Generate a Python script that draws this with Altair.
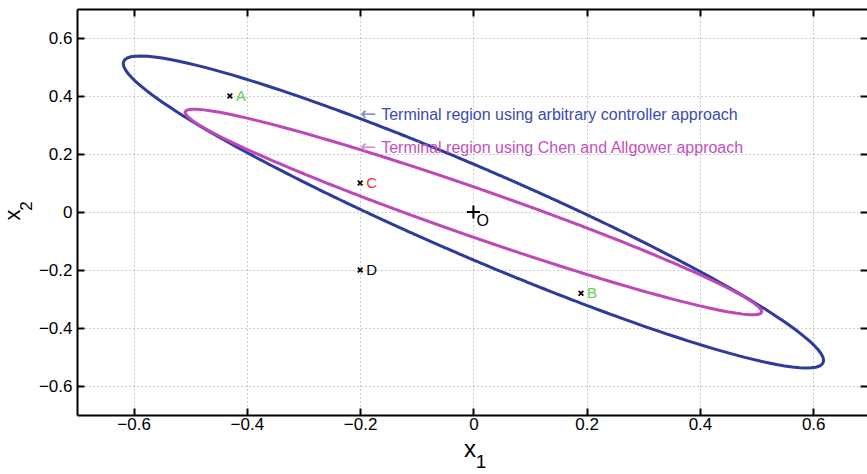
import altair as alt
import numpy as np
import pandas as pd

# Terminal regions {x : x' P x <= 1}, with P = [[p11, p12], [p12, p22]]
region_names = [
    "Terminal region using arbitrary controller approach",
    "Terminal region using Chen and Allgower approach",
]
region_p11 = [27.7, 64.0]
region_p12 = [30.3, 89.1]
region_p22 = [36.6, 132.0]
region_colors = ["#2c3b9c", "#bf47b6"]
region_text_colors = ["#3a4cb0", "#c550bd"]
region_arrow_colors = ["#7f88c8", "#d98ad2"]
# where each region's annotation arrow starts
note_x1 = [-0.2, -0.2]
note_x2 = [0.333, 0.219]

# Initial states
point_names = ["A", "B", "C", "D"]
point_x1 = [-0.43, 0.19, -0.20, -0.20]
point_x2 = [0.40, -0.28, 0.10, -0.20]
point_colors = ["#62cf55", "#62cf55", "#e8392b", "#000000"]

# Equilibrium
origin_name = ["O"]
origin_x1 = [0.0]
origin_x2 = [0.0]

tick_values = [-0.6, -0.4, -0.2, 0.0, 0.2, 0.4, 0.6]
x_domain = [-0.7, 0.695]
y_domain = [-0.7, 0.7]

W, H = 790, 406
FONT = "Liberation Sans"

# Boundary of each ellipse x' P x = 1, traced by direction angle
rows = []
angles = np.linspace(0.0, 2.0 * np.pi, 721)
for name, p11, p12, p22 in zip(region_names, region_p11, region_p12, region_p22):
    c, s = np.cos(angles), np.sin(angles)
    r = 1.0 / np.sqrt(p11 * c * c + 2.0 * p12 * c * s + p22 * s * s)
    for i, (a, b) in enumerate(zip(r * c, r * s)):
        rows.append({"region": name, "idx": i, "x1": a, "x2": b})
curves = pd.DataFrame(rows)

points = pd.DataFrame({"name": point_names, "x1": point_x1, "x2": point_x2,
                       "color": point_colors})
origin = pd.DataFrame({"name": origin_name, "x1": origin_x1, "x2": origin_x2})
notes = pd.DataFrame({"text": region_names, "x1": note_x1, "x2": note_x2,
                      "color": region_text_colors,
                      "arrow": ["\u2190", "\u2190"],
                      "arrow_color": region_arrow_colors})

xs = alt.Scale(domain=x_domain, nice=False, zero=False)
ys = alt.Scale(domain=y_domain, nice=False, zero=False)

label_expr = "datum.value == 0 ? '0' : format(datum.value, '.1f')"
label_axis = dict(values=tick_values, labelExpr=label_expr, ticks=False,
                  tickSize=0, labelFont=FONT, labelFontSize=17,
                  labelColor="#000000",
                  domain=True, domainColor="#000000", domainWidth=2,
                  grid=True, gridColor="#9a9a9a", gridDash=[1, 3], gridWidth=1,
                  title=None)
tick_axis = dict(values=tick_values, labels=False, ticks=True, tickSize=7,
                 tickWidth=2, tickColor="#000000", grid=False, title=None)

x_label_axis = alt.Axis(orient="bottom", labelPadding=1.5, **label_axis)
y_label_axis = alt.Axis(orient="left", labelPadding=5, **label_axis)

# ellipses, with the labelled axes and dotted grid
ellipses = alt.Chart(curves).mark_line(strokeWidth=3, clip=True).encode(
    x=alt.X("x1:Q", scale=xs, axis=x_label_axis),
    y=alt.Y("x2:Q", scale=ys, axis=y_label_axis),
    color=alt.Color("region:N", scale=alt.Scale(domain=region_names,
                                                range=region_colors),
                    legend=None),
    detail="region:N",
    order="idx:Q",
)

# cross markers; their axes carry the inward ticks along the bottom and left edges
markers = alt.Chart(points).mark_point(
    shape="M-1,-1L1,1M1,-1L-1,1", size=22, strokeWidth=1.8, color="#000000",
    filled=False, opacity=1,
).encode(
    x=alt.X("x1:Q", scale=xs,
            axis=alt.Axis(orient="top", offset=-H, domain=False, **tick_axis)),
    y=alt.Y("x2:Q", scale=ys,
            axis=alt.Axis(orient="right", offset=-W, domain=False, **tick_axis)),
)

point_labels = alt.Chart(points).mark_text(
    align="left", baseline="middle", dx=6, dy=0, font=FONT, fontSize=15,
).encode(
    x=alt.X("x1:Q", scale=xs, axis=None),
    y=alt.Y("x2:Q", scale=ys, axis=None),
    text="name:N",
    color=alt.Color("color:N", scale=None),
)

# equilibrium marker; its axes carry the inward ticks and border along top and right
origin_mark = alt.Chart(origin).mark_point(
    shape="M-1,0L1,0M0,-1L0,1", size=170, strokeWidth=2, color="#000000",
    filled=False, opacity=1,
).encode(
    x=alt.X("x1:Q", scale=xs,
            axis=alt.Axis(orient="bottom", offset=-H, domain=True,
                          domainColor="#000000", domainWidth=2, **tick_axis)),
    y=alt.Y("x2:Q", scale=ys,
            axis=alt.Axis(orient="left", offset=-W, domain=False, **tick_axis)),
)

origin_label = alt.Chart(origin).mark_text(
    align="left", baseline="middle", dx=3, dy=9, font=FONT, fontSize=16,
    color="#000000",
).encode(
    x=alt.X("x1:Q", scale=xs, axis=None),
    y=alt.Y("x2:Q", scale=ys, axis=None),
    text="name:N",
)

note_arrows = alt.Chart(notes).mark_text(
    align="left", baseline="middle", font="DejaVu Sans", fontSize=19, dy=-1,
).encode(
    x=alt.X("x1:Q", scale=xs, axis=None),
    y=alt.Y("x2:Q", scale=ys, axis=None),
    text="arrow:N",
    color=alt.Color("arrow_color:N", scale=None),
)

note_text = alt.Chart(notes).mark_text(
    align="left", baseline="middle", font=FONT, fontSize=16, dx=21,
).encode(
    x=alt.X("x1:Q", scale=xs, axis=None),
    y=alt.Y("x2:Q", scale=ys, axis=None),
    text="text:N",
    color=alt.Color("color:N", scale=None),
)

# axis titles x_1 and x_2 with their subscripts
title_parts = pd.DataFrame({
    "text": ["x", "1", "x", "2"],
    "px": [393, 404, -57, -45],
    "py": [448, 459, 206, 197],
    "size": [24, 19, 22, 17],
    "angle": [0, 0, 270, 270],
})
titles = alt.Chart(title_parts).mark_text(
    align="center", baseline="alphabetic", font=FONT, color="#000000",
).encode(
    x=alt.X("px:Q", scale=None, axis=None),
    y=alt.Y("py:Q", scale=None, axis=None),
    text="text:N",
    size=alt.Size("size:Q", scale=None, legend=None),
    angle=alt.Angle("angle:Q", scale=None),
)

chart = alt.layer(
    ellipses, markers, point_labels, origin_mark, origin_label,
    note_arrows, note_text, titles,
).resolve_axis(x="independent", y="independent").properties(
    width=W, height=H,
    autosize=alt.AutoSizeParams(type="none"),
    padding={"left": 77, "top": 9, "right": 0, "bottom": 59},
    background="#ffffff",
).configure_view(stroke=None)

chart.save("out.html", embed_options={"renderer": "svg", "actions": False})
